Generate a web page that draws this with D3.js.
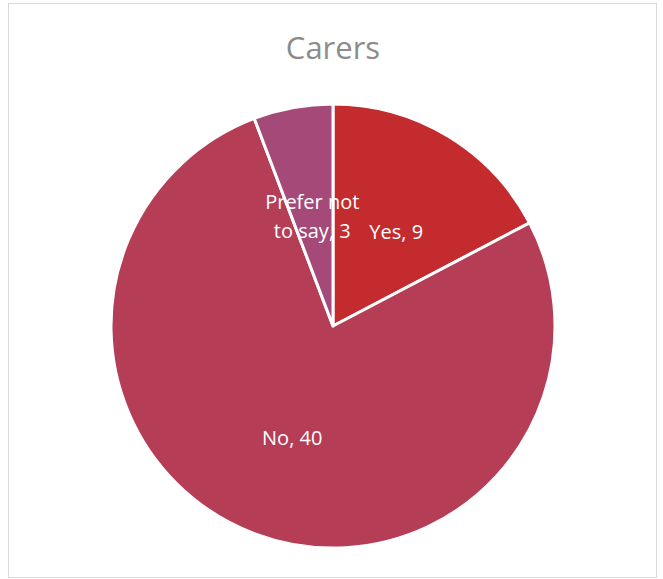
<!DOCTYPE html>
<html>
<head>
<meta charset="utf-8">
<script src="https://cdn.jsdelivr.net/npm/d3@7"></script>
<style>
body{margin:0;background:#fff;}
text{font-family:"Open Sans","Noto Sans",sans-serif;}
</style>
</head>
<body>
<div class="container"></div>
<script>
var categories = ["Yes", "No", "Prefer not to say"];
var values = [9, 40, 3];
var labelLines = [["Yes, 9"], ["No, 40"], ["Prefer not", "to say, 3"]];
var color = ["#c32b2f", "#b53d56", "#a54a78"];

var width = 663, height = 579;
var cx = 333, cy = 326, radius = 222;

var svg = d3.select('.container').append('svg')
	.attr("width", width)
	.attr("height", height);

svg.append('rect')
	.attr("x", 8.5).attr("y", 3.5)
	.attr("width", 648).attr("height", 574)
	.attr("fill", "#fff")
	.attr("stroke", "#d9d9d9");

svg.append('text')
	.attr("x", cx).attr("y", 59)
	.attr("text-anchor", "middle")
	.attr("font-size", 31)
	.attr("fill", "#8c8c8c")
	.text("Carers");

var pie = d3.pie().sort(null).value(function(d){return d;});
var arcs = pie(values);
var arc = d3.arc().innerRadius(0).outerRadius(radius);
var labelArc = d3.arc().innerRadius(115).outerRadius(115);

var g = svg.append('g').attr("transform", "translate(" + cx + "," + cy + ")");

g.selectAll('path')
	.data(arcs).enter()
	.append('path')
	.attr("d", arc)
	.attr("fill", function(d,i){return color[i];})
	.attr("stroke", "#fff")
	.attr("stroke-width", 3)
	.attr("stroke-linejoin", "round");

var labels = g.selectAll('text.lbl')
	.data(arcs).enter()
	.append('text')
	.attr("class", "lbl")
	.attr("text-anchor", "middle")
	.attr("font-size", 20)
	.attr("fill", "#fff")
	.attr("transform", function(d){
		var c = labelArc.centroid(d);
		return "translate(" + c[0] + "," + (c[1] + 4) + ")";
	});

labels.selectAll('tspan')
	.data(function(d,i){return labelLines[i].map(function(t,j){return {t:t, j:j, n:labelLines[i].length};});})
	.enter().append('tspan')
	.attr("x", 0)
	.attr("y", function(d){return (d.j - (d.n - 1) / 2) * 29 + 7;})
	.text(function(d){return d.t;});

// push the Yes label right so it doesn't run into the "to say, 3" line
var nodes = labels.nodes();
var yesBox = nodes[0].getBoundingClientRect();
var prefBox = nodes[2].getBoundingClientRect();
if (yesBox.left < prefBox.right + 10) {
	var shift = prefBox.right + 10 - yesBox.left;
	var c0 = labelArc.centroid(arcs[0]);
	d3.select(nodes[0]).attr("transform", "translate(" + (c0[0] + shift) + "," + (c0[1] + 4) + ")");
}
</script>
</body>
</html>
